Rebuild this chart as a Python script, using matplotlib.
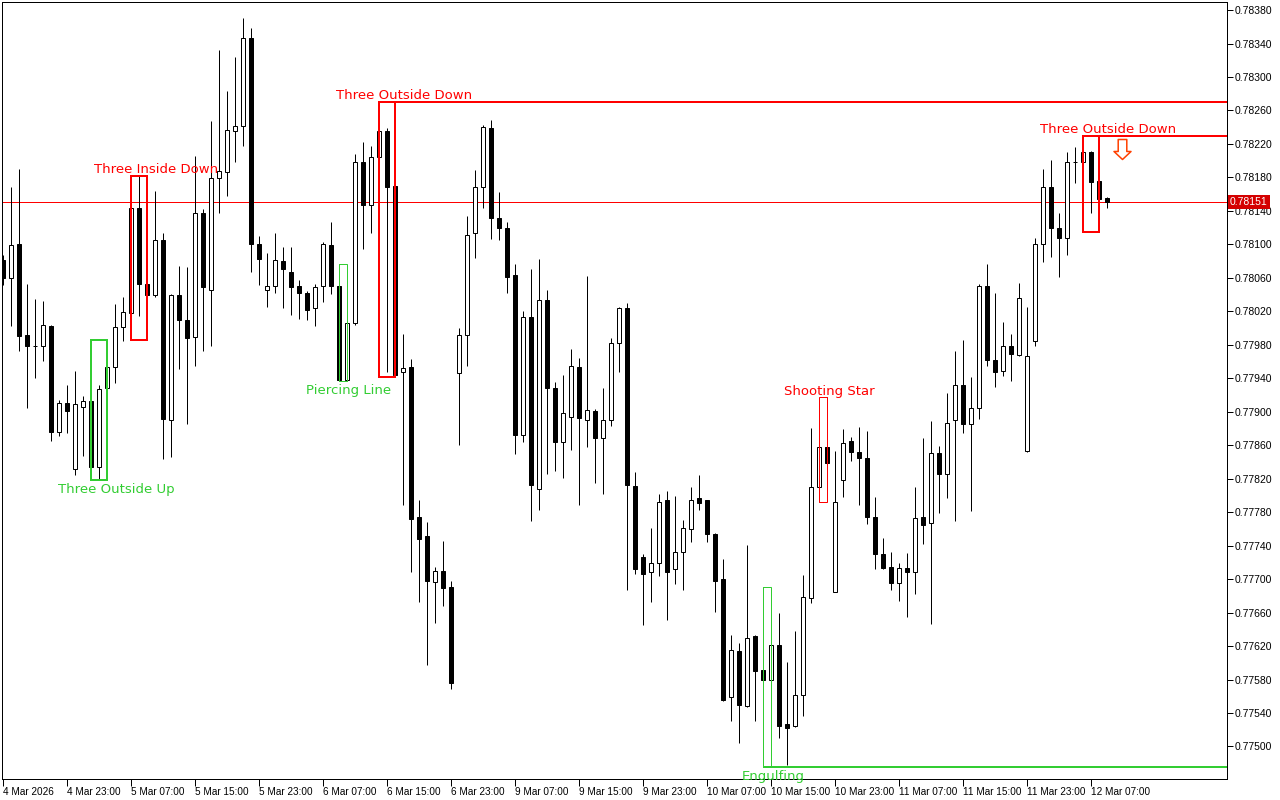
import matplotlib
matplotlib.use("Agg")
import matplotlib.pyplot as plt
import matplotlib.transforms as mtransforms
from matplotlib.patches import Rectangle
from matplotlib.path import Path
import numpy as np

# hourly bars, 4 Mar 15:00 .. 12 Mar 09:00
opens = [0.78081, 0.78060, 0.78101, 0.77992, 0.77979, 0.77979, 0.78002, 0.77876, 0.77910, 0.77831,
         0.77906, 0.77913, 0.77834, 0.77928, 0.77954, 0.78001, 0.78018, 0.78143, 0.78053, 0.78040,
         0.78105, 0.77890, 0.78039, 0.78010, 0.77989, 0.78137, 0.78045, 0.78179, 0.78187, 0.78236,
         0.78242, 0.78347, 0.78100, 0.78046, 0.78050, 0.78080, 0.78067, 0.78050, 0.78042, 0.78024,
         0.78050, 0.78099, 0.78050, 0.77938, 0.78006, 0.78198, 0.78147, 0.78204, 0.78235, 0.78170,
         0.77947, 0.77954, 0.77774, 0.77751, 0.77696, 0.77710, 0.77690, 0.77946, 0.77992, 0.78114,
         0.78169, 0.78239, 0.78132, 0.78119, 0.78063, 0.77872, 0.78013, 0.77808, 0.78033, 0.77928,
         0.77864, 0.77894, 0.77953, 0.77890, 0.77901, 0.77868, 0.77890, 0.77982, 0.78024, 0.77811,
         0.77726, 0.77709, 0.77719, 0.77794, 0.77712, 0.77732, 0.77760, 0.77797, 0.77794, 0.77754,
         0.77700, 0.77559, 0.77614, 0.77548, 0.77632, 0.77591, 0.77580, 0.77621, 0.77527, 0.77524,
         0.77562, 0.77677, 0.77810, 0.77858, 0.77685, 0.77818, 0.77865, 0.77852, 0.77845, 0.77774,
         0.77730, 0.77714, 0.77695, 0.77713, 0.77708, 0.77774, 0.77767, 0.77851, 0.77826, 0.77890,
         0.77932, 0.77885, 0.77904, 0.78050, 0.77962, 0.77949, 0.77978, 0.77968, 0.77853, 0.77984,
         0.78101, 0.78168, 0.78120, 0.78108, 0.78198, 0.78198, 0.78210, 0.78176, 0.78155]
highs = [0.78087, 0.78169, 0.78190, 0.78053, 0.78035, 0.78032, 0.78004, 0.77914, 0.77932, 0.77949,
         0.77919, 0.77934, 0.77932, 0.77986, 0.78029, 0.78037, 0.78159, 0.78182, 0.78128, 0.78164,
         0.78113, 0.78041, 0.78074, 0.78073, 0.78205, 0.78142, 0.78247, 0.78332, 0.78283, 0.78324,
         0.78370, 0.78358, 0.78110, 0.78090, 0.78114, 0.78097, 0.78097, 0.78057, 0.78044, 0.78053,
         0.78103, 0.78127, 0.78076, 0.78034, 0.78208, 0.78222, 0.78217, 0.78270, 0.78239, 0.78243,
         0.77993, 0.77963, 0.77794, 0.77768, 0.77714, 0.77746, 0.77698, 0.78000, 0.78134, 0.78189,
         0.78243, 0.78248, 0.78163, 0.78127, 0.78076, 0.78020, 0.78070, 0.78082, 0.78046, 0.77935,
         0.77944, 0.77975, 0.77964, 0.78062, 0.77903, 0.77928, 0.77988, 0.78025, 0.78030, 0.77828,
         0.77730, 0.77761, 0.77802, 0.77805, 0.77799, 0.77771, 0.77810, 0.77824, 0.77795, 0.77755,
         0.77724, 0.77633, 0.77624, 0.77741, 0.77633, 0.77690, 0.77624, 0.77659, 0.77601, 0.77638,
         0.77705, 0.77880, 0.77890, 0.77917, 0.77853, 0.77879, 0.77870, 0.77882, 0.77877, 0.77798,
         0.77749, 0.77732, 0.77719, 0.77731, 0.77810, 0.77868, 0.77889, 0.77859, 0.77922, 0.77972,
         0.77986, 0.77941, 0.78053, 0.78077, 0.78042, 0.78007, 0.77993, 0.78054, 0.78025, 0.78107,
         0.78190, 0.78201, 0.78137, 0.78210, 0.78216, 0.78230, 0.78212, 0.78187, 0.78156]
lows = [0.78051, 0.78003, 0.77973, 0.77904, 0.77940, 0.77961, 0.77865, 0.77871, 0.77875, 0.77824,
        0.77847, 0.77830, 0.77818, 0.77910, 0.77934, 0.77984, 0.77986, 0.78014, 0.78033, 0.78037,
        0.77844, 0.77846, 0.77951, 0.77885, 0.77955, 0.77973, 0.77978, 0.78137, 0.78158, 0.78199,
        0.78218, 0.78067, 0.78052, 0.78025, 0.78042, 0.78024, 0.78016, 0.78011, 0.78010, 0.78002,
        0.78031, 0.78041, 0.77937, 0.77937, 0.78004, 0.78095, 0.78114, 0.78125, 0.77948, 0.77942,
        0.77788, 0.77709, 0.77673, 0.77597, 0.77648, 0.77668, 0.77569, 0.77860, 0.77955, 0.78084,
        0.78143, 0.78106, 0.78105, 0.78042, 0.77849, 0.77864, 0.77770, 0.77783, 0.77826, 0.77829,
        0.77821, 0.77854, 0.77788, 0.77858, 0.77815, 0.77802, 0.77883, 0.77947, 0.77687, 0.77706,
        0.77645, 0.77673, 0.77704, 0.77651, 0.77694, 0.77687, 0.77744, 0.77782, 0.77744, 0.77661,
        0.77554, 0.77530, 0.77504, 0.77547, 0.77530, 0.77556, 0.77475, 0.77510, 0.77478, 0.77523,
        0.77536, 0.77671, 0.77792, 0.77830, 0.77684, 0.77798, 0.77841, 0.77788, 0.77766, 0.77712,
        0.77712, 0.77687, 0.77674, 0.77655, 0.77682, 0.77742, 0.77646, 0.77779, 0.77797, 0.77769,
        0.77875, 0.77781, 0.77891, 0.77955, 0.77930, 0.77943, 0.77937, 0.77967, 0.77852, 0.77978,
        0.78079, 0.78085, 0.78061, 0.78087, 0.78173, 0.78169, 0.78137, 0.78115, 0.78143]
closes = [0.78060, 0.78099, 0.77991, 0.77979, 0.77978, 0.78004, 0.77876, 0.77910, 0.77901, 0.77909,
          0.77913, 0.77834, 0.77927, 0.77954, 0.78001, 0.78019, 0.78143, 0.78053, 0.78040, 0.78105,
          0.77891, 0.78040, 0.78010, 0.77988, 0.78137, 0.78049, 0.78179, 0.78188, 0.78237, 0.78241,
          0.78347, 0.78100, 0.78083, 0.78050, 0.78081, 0.78070, 0.78049, 0.78042, 0.78022, 0.78049,
          0.78100, 0.78050, 0.77938, 0.78006, 0.78198, 0.78147, 0.78204, 0.78235, 0.78168, 0.77944,
          0.77952, 0.77772, 0.77748, 0.77698, 0.77710, 0.77689, 0.77576, 0.77992, 0.78111, 0.78169,
          0.78240, 0.78131, 0.78120, 0.78061, 0.77872, 0.78013, 0.77812, 0.78033, 0.77928, 0.77864,
          0.77899, 0.77955, 0.77892, 0.77902, 0.77868, 0.77890, 0.77982, 0.78024, 0.77812, 0.77712,
          0.77706, 0.77719, 0.77792, 0.77709, 0.77732, 0.77761, 0.77795, 0.77791, 0.77754, 0.77698,
          0.77555, 0.77615, 0.77549, 0.77630, 0.77590, 0.77580, 0.77621, 0.77524, 0.77522, 0.77561,
          0.77678, 0.77810, 0.77858, 0.77839, 0.77792, 0.77863, 0.77852, 0.77845, 0.77774, 0.77730,
          0.77713, 0.77695, 0.77713, 0.77708, 0.77773, 0.77765, 0.77851, 0.77825, 0.77887, 0.77932,
          0.77885, 0.77905, 0.78050, 0.77962, 0.77948, 0.77979, 0.77969, 0.78036, 0.77967, 0.78101,
          0.78168, 0.78119, 0.78108, 0.78198, 0.78199, 0.78210, 0.78175, 0.78154, 0.78151]

last_price = 0.78151

time_labels = ["4 Mar 2026", "4 Mar 23:00", "5 Mar 07:00", "5 Mar 15:00", "5 Mar 23:00",
               "6 Mar 07:00", "6 Mar 15:00", "6 Mar 23:00", "9 Mar 07:00", "9 Mar 15:00",
               "9 Mar 23:00", "10 Mar 07:00", "10 Mar 15:00", "10 Mar 23:00", "11 Mar 07:00",
               "11 Mar 15:00", "11 Mar 23:00", "12 Mar 07:00"]
time_ticks = [0, 8, 16, 24, 32, 40, 48, 56, 64, 72, 80, 88, 96, 104, 112, 120, 128, 136]
price_ticks = [0.77500, 0.77540, 0.77580, 0.77620, 0.77660, 0.77700, 0.77740, 0.77780,
               0.77820, 0.77860, 0.77900, 0.77940, 0.77980, 0.78020, 0.78060, 0.78100,
               0.78140, 0.78180, 0.78220, 0.78260, 0.78300, 0.78340, 0.78380]

pattern_names = ["Three Outside Up", "Three Inside Down", "Piercing Line", "Three Outside Down",
                 "Engulfing", "Shooting Star", "Three Outside Down"]
pattern_first = [11, 16, 42, 47, 95, 102, 135]
pattern_last = [13, 18, 43, 49, 96, 103, 137]
pattern_bull = [True, False, True, False, True, False, False]
pattern_extend = [False, False, False, True, True, False, True]

# sell signal arrow after the last pattern
arrow_bar = 139.85
arrow_price = 0.78214

PX = 0.72  # one pixel in points at 100 dpi
RED = "#ff0000"
GREEN = "#32cd32"
AXIS_FONT = ["Liberation Sans", "DejaVu Sans"]

fig = plt.figure(figsize=(12.8, 8), dpi=100)
ax = fig.add_axes([2 / 1280, 21 / 800, 1225 / 1280, 777 / 800])
ax.set_xlim(-0.1, 153.0)
ax.set_ylim(0.774611, 0.783896)

o = np.array(opens)
h = np.array(highs)
l = np.array(lows)
c = np.array(closes)
x = np.arange(len(o))
up = c >= o

ax.axhline(last_price, color=RED, lw=PX, zorder=1)

ax.vlines(x, l, h, color="black", lw=PX, zorder=2)
body_lo = np.minimum(o, c)
body_h = np.maximum(np.abs(c - o), 0.000008)
ax.bar(x, body_h, bottom=body_lo, width=0.5, color=np.where(up, "white", "black"),
       edgecolor="black", lw=PX, zorder=3)

xmax = ax.get_xlim()[1]
for name, i0, i1, bull, ext in zip(pattern_names, pattern_first, pattern_last,
                                   pattern_bull, pattern_extend):
    col = GREEN if bull else RED
    top = h[i0:i1 + 1].max()
    bot = l[i0:i1 + 1].min()
    lw = 2 * PX if i1 - i0 == 2 else PX
    ax.add_patch(Rectangle((i0, bot), i1 - i0, top - bot, fill=False,
                           edgecolor=col, lw=lw, zorder=4))
    level = bot if bull else top
    if ext:
        ax.hlines(level, i0, xmax, color=col, lw=2 * PX, zorder=4)
    shift = 1.15 if i1 - i0 == 2 else 0.25
    if bull:
        ax.annotate(name, xy=(i1 + shift, level), xytext=(0, -2), textcoords="offset points",
                    ha="center", va="top", color=col, fontsize=9.5, zorder=5)
    else:
        ax.annotate(name, xy=(i1 + shift, level), xytext=(0, 2), textcoords="offset points",
                    ha="center", va="baseline", color=col, fontsize=9.5, zorder=5)

arrow = Path([(-4.3, 10), (4.3, 10), (4.3, -2), (8.5, -2), (0, -10), (-8.5, -2),
              (-4.3, -2), (-4.3, 10)],
             [Path.MOVETO] + [Path.LINETO] * 6 + [Path.CLOSEPOLY])
ax.plot([arrow_bar], [arrow_price], marker=arrow, markersize=14.4, mfc="white",
        mec="#ff4000", mew=1.1, ls="none", zorder=5)

ax.yaxis.tick_right()
ax.set_yticks(price_ticks)
ax.set_yticklabels([f"{p:.5f}" for p in price_ticks], family=AXIS_FONT, fontsize=7.5)
ax.tick_params(axis="y", length=4, width=PX, pad=1.5, direction="out")
ax.set_xticks(time_ticks)
ax.set_xticklabels(time_labels, ha="left", family=AXIS_FONT, fontsize=7.2)
ax.tick_params(axis="x", length=5, width=PX, pad=1, direction="out")
for s in ax.spines.values():
    s.set_linewidth(PX)
    s.set_color("black")

trans = mtransforms.blended_transform_factory(ax.transAxes, ax.transData)
ax.text(1.0 + 3 / 1225, last_price, f"{last_price:.5f}", transform=trans, ha="left",
        va="center", fontsize=7.5, family=AXIS_FONT, color="white", clip_on=False, zorder=10,
        bbox=dict(boxstyle="square,pad=0.2", fc="#d40000", ec="none"))

fig.savefig("out.png", dpi=100)
